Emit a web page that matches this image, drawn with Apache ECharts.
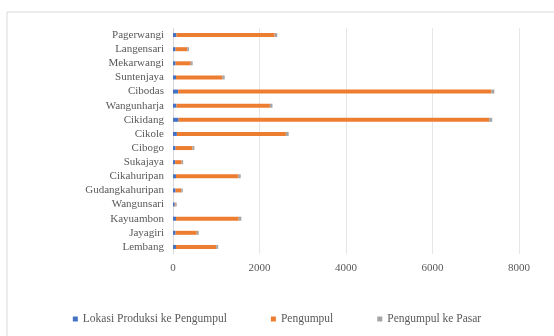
<!DOCTYPE html>
<html><head><meta charset="utf-8">
<script src="https://cdn.jsdelivr.net/npm/echarts@6/dist/echarts.min.js"></script>
<style>html,body{margin:0;padding:0;background:#fff;}#c{width:554px;height:336px;}</style>
</head><body><div id="c"></div>
<script>
const categories = ["Pagerwangi","Langensari","Mekarwangi","Suntenjaya","Cibodas","Wangunharja","Cikidang","Cikole","Cibogo","Sukajaya","Cikahuripan","Gudangkahuripan","Wangunsari","Kayuambon","Jayagiri","Lembang"];
const lokasiKePengumpul = [80, 60, 60, 70, 120, 80, 130, 90, 60, 50, 70, 60, 40, 70, 60, 70];
const pengumpul = [2270, 270, 350, 1070, 7240, 2160, 7180, 2520, 390, 150, 1440, 130, 20, 1450, 490, 930];
const pengumpulKePasar = [60, 40, 45, 55, 70, 60, 70, 65, 45, 35, 55, 35, 25, 60, 45, 45];
const xTicks = [0, 2000, 4000, 6000, 8000];
const seriesNames = ["Lokasi Produksi ke Pengumpul", "Pengumpul", "Pengumpul ke Pasar"];

const chart = echarts.init(document.getElementById('c'), null, {renderer:'canvas'});
const font = "'Liberation Serif','DejaVu Serif',serif";
const mk = (name, data, color) => ({
  name, type:'bar', stack:'total', data, barWidth:4,
  itemStyle:{color}, emphasis:{disabled:true}
});
chart.setOption({
  animation:false,
  textStyle:{fontFamily:font},
  graphic:[{type:'rect', shape:{x:7,y:12,width:560,height:340}, style:{fill:'none', stroke:'#d9d9d9', lineWidth:1}, silent:true}],
  grid:{left:173, right:35, top:28, bottom:82},
  xAxis:{type:'value', min:xTicks[0], max:xTicks[xTicks.length-1], interval:2000,
    axisLine:{show:false}, axisTick:{show:false},
    axisLabel:{color:'#595959', fontSize:11, fontFamily:font, margin:9, formatter:v=>String(v)},
    splitLine:{lineStyle:{color:'#e6e6e6', width:1}}},
  yAxis:{type:'category', data:categories, inverse:true,
    axisLine:{lineStyle:{color:'#d9d9d9'}}, axisTick:{show:false},
    axisLabel:{color:'#595959', fontSize:11, fontFamily:font, margin:9, interval:0}},
  legend:{bottom:6, left:'center', itemWidth:5, itemHeight:5, itemGap:44, icon:'rect',
    textStyle:{color:'#595959', fontSize:11.5, fontFamily:font}, selectedMode:false},
  series:[
    mk(seriesNames[0], lokasiKePengumpul, '#4472C4'),
    mk(seriesNames[1], pengumpul, '#ED7D31'),
    mk(seriesNames[2], pengumpulKePasar, '#A5A5A5')
  ]
});
</script></body></html>
